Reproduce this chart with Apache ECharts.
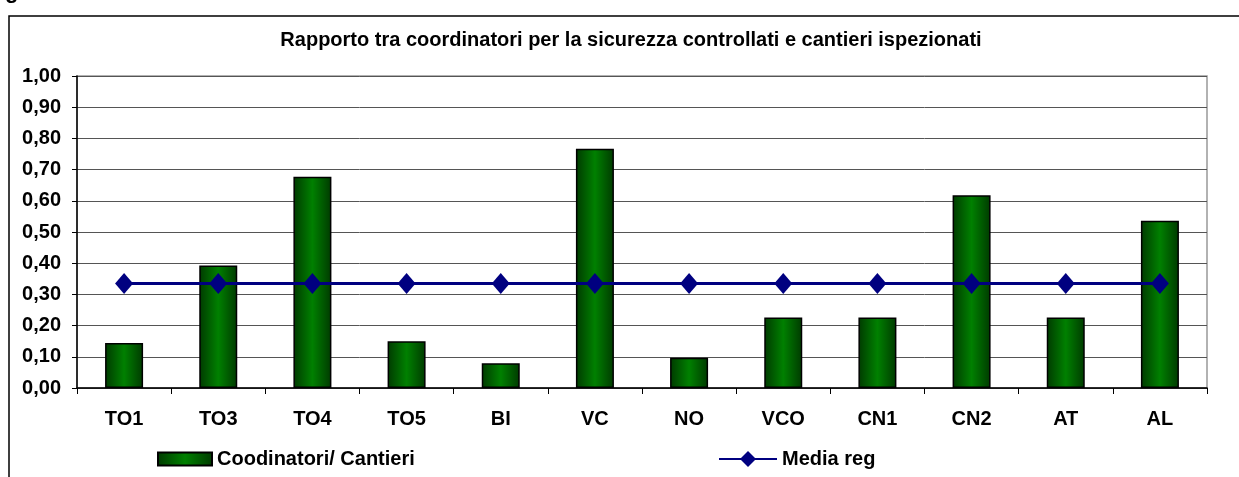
<!DOCTYPE html>
<html>
<head>
<meta charset="utf-8">
<script src="https://cdn.jsdelivr.net/npm/echarts@6/dist/echarts.min.js"></script>
<style>
html, body { margin: 0; padding: 0; background: #fff; }
#chart { width: 1239px; height: 477px; }
</style>
</head>
<body>
<div id="chart"></div>
<script>
// dati
var categorie = ['TO1', 'TO3', 'TO4', 'TO5', 'BI', 'VC', 'NO', 'VCO', 'CN1', 'CN2', 'AT', 'AL']
var coordinatoriCantieri = [0.144, 0.393, 0.677, 0.150, 0.079, 0.767, 0.097, 0.226, 0.226, 0.618, 0.226, 0.536]
var mediaReg = [0.335, 0.335, 0.335, 0.335, 0.335, 0.335, 0.335, 0.335, 0.335, 0.335, 0.335, 0.335]
var titolo = 'Rapporto tra coordinatori per la sicurezza controllati e cantieri ispezionati'

var font = 'Arial, "Liberation Sans", sans-serif'

var chart = echarts.init(document.getElementById('chart'))
chart.setOption({
  animation: false,
  backgroundColor: '#fff',
  title: {
    text: titolo,
    left: 626,
    top: 25,
    textAlign: 'center',
    textStyle: { fontFamily: font, fontSize: 20, fontWeight: 'bold', color: '#000' }
  },
  graphic: [
    { // cornice esterna
      type: 'rect',
      shape: { x: 9, y: 16, width: 1300, height: 520 },
      style: { fill: 'none', stroke: '#000', lineWidth: 1.5 },
      silent: true
    },
    { // resto della didascalia tagliata
      type: 'text',
      left: 5,
      top: -19,
      style: { text: 'g', font: 'bold 22px Arial, "Liberation Sans", sans-serif', fill: '#000' },
      silent: true
    }
  ],
  legend: [
    {
      data: [{ name: 'Coodinatori/ Cantieri', icon: 'rect' }],
      left: 152,
      top: 444,
      itemWidth: 54,
      itemHeight: 13,
      selectedMode: false,
      textStyle: { fontFamily: font, fontSize: 20, fontWeight: 'bold', color: '#000' }
    },
    {
      data: ['Media reg'],
      left: 713,
      top: 444,
      itemWidth: 58,
      itemHeight: 20,
      selectedMode: false,
      textStyle: { fontFamily: font, fontSize: 20, fontWeight: 'bold', color: '#000' }
    }
  ],
  grid: {
    left: 77,
    right: 32,
    top: 76,
    bottom: 89,
    show: true,
    borderColor: '#999',
    borderWidth: 1.5
  },
  xAxis: {
    type: 'category',
    data: categorie,
    axisLine: { lineStyle: { color: '#000', width: 1.5 } },
    axisTick: { show: true, length: 6, lineStyle: { color: '#000' } },
    axisLabel: { margin: 21, fontFamily: font, fontSize: 20, fontWeight: 'bold', color: '#000' }
  },
  yAxis: {
    type: 'value',
    min: 0,
    max: 1,
    interval: 0.1,
    axisLine: { show: true, lineStyle: { color: '#000', width: 1.5 } },
    axisTick: { show: true, length: 5, lineStyle: { color: '#000' } },
    splitLine: { lineStyle: { color: '#555', width: 1 } },
    axisLabel: {
      margin: 16,
      fontFamily: font,
      fontSize: 20,
      fontWeight: 'bold',
      color: '#000',
      formatter: function (v) { return v.toFixed(2).replace('.', ',') }
    }
  },
  series: [
    {
      name: 'Coodinatori/ Cantieri',
      type: 'bar',
      data: coordinatoriCantieri,
      barWidth: 38,
      itemStyle: {
        color: new echarts.graphic.LinearGradient(0, 0, 1, 0, [
          { offset: 0, color: '#003a00' },
          { offset: 0.5, color: '#008000' },
          { offset: 1, color: '#003a00' }
        ]),
        borderColor: '#000',
        borderWidth: 1.5
      }
    },
    {
      name: 'Media reg',
      type: 'line',
      data: mediaReg,
      symbol: 'diamond',
      symbolSize: [18, 21],
      itemStyle: { color: '#000080' },
      lineStyle: { color: '#000080', width: 3 },
      z: 5
    }
  ]
})
</script>
</body>
</html>
